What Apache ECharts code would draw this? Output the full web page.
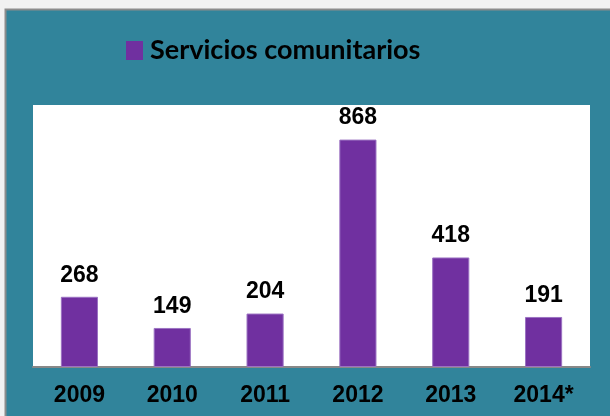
<!DOCTYPE html>
<html>
<head>
<meta charset="utf-8">
<script src="https://cdn.jsdelivr.net/npm/echarts@6/dist/echarts.min.js"></script>
<style>
  html, body { margin: 0; padding: 0; background: #f2f2f2; }
  #chart { width: 610px; height: 416px; }
</style>
</head>
<body>
<div id="chart"></div>
<script>
  var years = ['2009', '2010', '2011', '2012', '2013', '2014*'];
  var servicios = [268, 149, 204, 868, 418, 191];
  var seriesName = 'Servicios comunitarios';

  var myChart = echarts.init(document.getElementById('chart'));

  myChart.setOption({
    backgroundColor: '#f2f2f2',
    animation: false,
    graphic: [{
      type: 'rect',
      z: -10,
      shape: { x: 5.5, y: 9.5, width: 700, height: 500 },
      style: { fill: '#31849b', stroke: '#8c8c8c', lineWidth: 2 }
    }],
    legend: {
      data: [seriesName],
      left: 126,
      top: 37,
      padding: 0,
      itemWidth: 17,
      itemHeight: 19,
      itemGap: 10,
      icon: 'rect',
      itemStyle: { borderWidth: 0 },
      textStyle: {
        fontFamily: 'Lato',
        fontWeight: 'bold',
        fontSize: 27,
        color: '#000',
        padding: [0, 0, 0, 2]
      }
    },
    grid: {
      left: 33,
      right: 20,
      top: 105,
      bottom: 49,
      show: true,
      backgroundColor: '#ffffff',
      borderWidth: 0
    },
    xAxis: {
      type: 'category',
      data: years,
      axisLine: { show: true, lineStyle: { color: '#888888', width: 2 } },
      axisTick: { show: false },
      axisLabel: {
        margin: 17,
        color: '#000',
        fontFamily: 'Liberation Sans',
        fontWeight: 'bold',
        fontSize: 23
      }
    },
    yAxis: {
      type: 'value',
      min: 0,
      max: 1000,
      show: false,
      splitLine: { show: false }
    },
    series: [{
      name: seriesName,
      type: 'bar',
      data: servicios,
      barWidth: '40%',
      itemStyle: { color: '#7030a0', borderColor: '#9b72c2', borderWidth: 1 },
      label: {
        show: true,
        position: 'top',
        distance: 10,
        color: '#000',
        fontFamily: 'Liberation Sans',
        fontWeight: 'bold',
        fontSize: 23
      }
    }]
  });
</script>
</body>
</html>
